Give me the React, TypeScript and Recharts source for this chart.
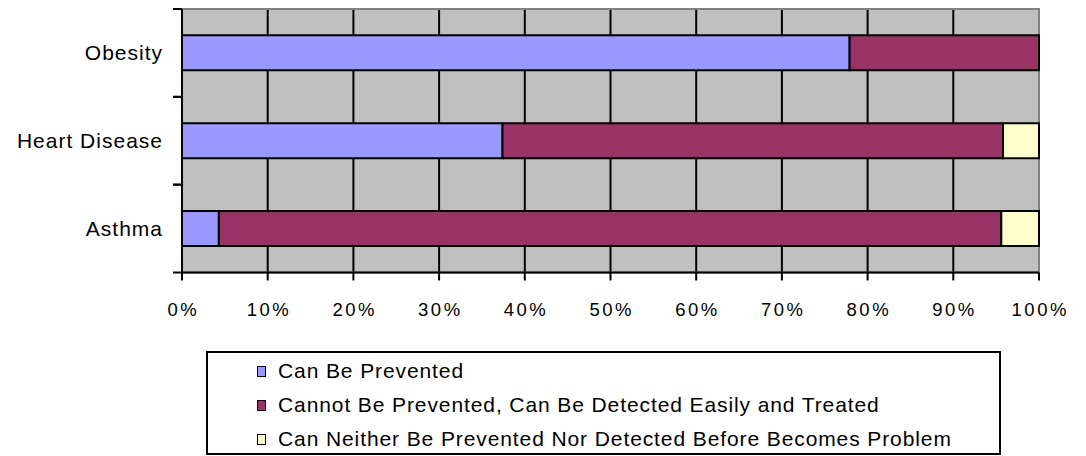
import React from "react";
import {
  BarChart,
  Bar,
  XAxis,
  YAxis,
  CartesianGrid,
  Legend,
  ReferenceArea,
} from "recharts";

const FONT = '"Liberation Sans", Arial, sans-serif';

const diseases = ["Obesity", "Heart Disease", "Asthma"];
const canBePrevented = [77.9, 37.4, 4.3];
const detectedAndTreated = [22.1, 58.4, 91.3];
const neitherPreventedNorDetected = [0, 4.2, 4.4];
const percentTicks = [0, 10, 20, 30, 40, 50, 60, 70, 80, 90, 100];

const seriesNames = [
  "Can Be Prevented",
  "Cannot Be Prevented, Can Be Detected Easily and Treated",
  "Can Neither Be Prevented Nor Detected Before Becomes Problem",
];
const seriesColors = ["#9999FF", "#993366", "#FFFFCC"];

const data = diseases.map((name, i) => ({
  name,
  prevented: canBePrevented[i],
  detected: detectedAndTreated[i],
  neither: neitherPreventedNorDetected[i],
}));

function CategoryTick(props: any) {
  const { x, y, payload } = props;
  const half = payload?.offset || 43.9;
  return (
    <g>
      <line x1={x - 9} x2={x} y1={y - half} y2={y - half} stroke="#000" strokeWidth={2} />
      <line x1={x - 9} x2={x} y1={y + half} y2={y + half} stroke="#000" strokeWidth={2} />
      <text
        x={x - 19}
        y={y}
        dy="0.33em"
        textAnchor="end"
        fill="#000"
        fontSize={21}
        fontFamily={FONT}
        letterSpacing={1}
      >
        {payload.value}
      </text>
    </g>
  );
}

function LegendBox(props: any) {
  // keep the series order, not the alphabetical one
  const items = [...(props.payload || [])].sort(
    (a: any, b: any) => seriesNames.indexOf(a.value) - seriesNames.indexOf(b.value)
  );
  return (
    <div
      style={{
        width: 795,
        height: 104,
        boxSizing: "border-box",
        border: "2px solid #000",
        background: "#fff",
        paddingLeft: 49,
        paddingTop: 1,
        fontFamily: FONT,
      }}
    >
      {items.map((item: any) => (
        <div key={item.value} style={{ display: "flex", alignItems: "center", height: 34 }}>
          <span
            style={{
              display: "inline-block",
              width: 9,
              height: 11,
              boxSizing: "border-box",
              background: item.color,
              border: "1.5px solid #000",
              marginRight: 12,
            }}
          />
          <span style={{ fontSize: 21, letterSpacing: 0.9, color: "#000", whiteSpace: "nowrap" }}>
            {item.value}
          </span>
        </div>
      ))}
    </div>
  );
}

export default function App() {
  return (
    <div style={{ position: "absolute", left: 0, top: 0, background: "#fff" }}>
      <BarChart
        width={1086}
        height={456}
        data={data}
        layout="vertical"
        barCategoryGap="30%"
        margin={{ top: 9, right: 47, bottom: 0, left: 0 }}
      >
        <CartesianGrid
          horizontal={false}
          stroke="#000"
          strokeWidth={2}
          fill="#C0C0C0"
          fillOpacity={1}
        />
        <ReferenceArea x1={0} x2={100} fill="none" stroke="#808080" strokeWidth={2} />
        <XAxis
          type="number"
          domain={[0, 100]}
          ticks={percentTicks}
          tickFormatter={(v: number) => `${v}%`}
          interval={0}
          height={183.5}
          tickSize={8}
          tickMargin={22.5}
          axisLine={{ stroke: "#000", strokeWidth: 2 }}
          tickLine={{ stroke: "#000", strokeWidth: 2 }}
          tick={{ fill: "#000", fontSize: 18.5, fontFamily: FONT, letterSpacing: 2.5, dx: 1.25 }}
        />
        <YAxis
          type="category"
          dataKey="name"
          width={182}
          tickSize={0}
          tickMargin={0}
          tickLine={false}
          axisLine={{ stroke: "#000", strokeWidth: 2 }}
          tick={<CategoryTick />}
          interval={0}
        />
        <Legend
          layout="horizontal"
          verticalAlign="middle"
          align="center"
          content={<LegendBox />}
          wrapperStyle={{ top: 351, left: 206, width: 795, height: 104 }}
        />
        <Bar dataKey="prevented" name={seriesNames[0]} stackId="a" fill={seriesColors[0]} stroke="#000" strokeWidth={2} isAnimationActive={false} />
        <Bar dataKey="detected" name={seriesNames[1]} stackId="a" fill={seriesColors[1]} stroke="#000" strokeWidth={2} isAnimationActive={false} />
        <Bar dataKey="neither" name={seriesNames[2]} stackId="a" fill={seriesColors[2]} stroke="#000" strokeWidth={2} isAnimationActive={false} />
      </BarChart>
    </div>
  );
}
